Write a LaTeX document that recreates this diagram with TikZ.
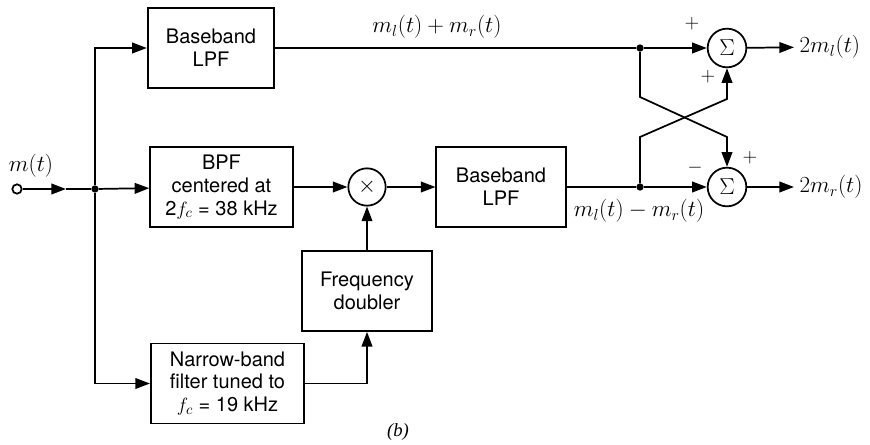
\documentclass[tikz,border=0pt]{standalone}
\usepackage{fontspec}
\setmainfont{TeX Gyre Heros}
\newfontfamily\capfont{Liberation Serif}
\usetikzlibrary{arrows.meta,positioning,calc}

\begin{document}
\begin{tikzpicture}[
    x=0.75pt, y=-0.75pt,
    font=\fontsize{15}{17}\selectfont,
    box/.style={draw, line width=1.3pt, align=center, minimum height=60pt, inner sep=2pt},
    opcirc/.style={draw, circle, line width=1.3pt, minimum size=29pt, inner sep=0pt},
    dot/.style={circle, fill, inner sep=0pt, minimum size=5.5pt},
    wire/.style={line width=1.3pt},
    arr/.style={wire, -{Triangle[length=11pt, width=8pt]}},
    sig/.style={font=\fontsize{16.5}{18}\selectfont, inner sep=1pt},
    sgn/.style={font=\fontsize{15}{15}\selectfont, inner sep=0pt}
  ]
    \useasboundingbox (0,0) rectangle (870,445);
    % blocks
    \node[box, minimum width=95pt] (lpfa) at (211,48) {Baseband\\LPF};
    \node[box, minimum width=107pt] (bpf) at (221.5,187) {BPF\\centered at\\2$f_c$ = 38 kHz};
    \node[opcirc, minimum size=28pt] (mix) at (367,187) {\fontsize{17}{17}\selectfont$\times$};
    \node[box, minimum width=97pt] (lpfb) at (501,187) {Baseband\\LPF};
    \node[box, minimum width=98pt] (dbl) at (367,291) {Frequency\\doubler};
    \node[box, minimum width=115pt] (nbf) at (227.5,383.5) {Narrow-band\\filter tuned to\\$f_c$ = 19 kHz};
    \node[opcirc] (suma) at (727,48) {\fontsize{18}{18}\selectfont$\Sigma$};
    \node[opcirc] (sumb) at (727,187) {\fontsize{18}{18}\selectfont$\Sigma$};
    % input and branch points
    \node[circle, draw, wire, minimum size=7pt, inner sep=0pt] (in) at (17,189) {};
    \node[sig] (lin) at (31,166) {$m(t)$};
    \coordinate (inmid) at (66,189);
    \node[dot] (j) at (95,189) {};
    \node[dot] (jt) at (640,48) {};
    \node[dot] (jb) at (640,187) {};
    \coordinate (xa1) at (640,97);
    \coordinate (xa2) at (727,137);
    \coordinate (xb1) at (640,137);
    \coordinate (xb2) at (727,99);
    % outputs
    \node[sig, anchor=west, inner sep=4pt] (outa) at (794,47) {$2m_l(t)$};
    \node[sig, anchor=west, inner sep=4pt] (outb) at (794,187) {$2m_r(t)$};
    \node[sig] (lsum) at (437,27) {$m_l(t) + m_r(t)$};
    \node[sig] (ldif) at (639,211) {$m_l(t) - m_r(t)$};
    % signs
    \node[sgn] at (692,24) {$+$};
    \node[sgn] at (708,77) {$+$};
    \node[sgn] at (750,158) {$+$};
    \node[sgn] at (695,168) {$-$};
    \node[font=\capfont\itshape\fontsize{14}{16}\selectfont] (cap) at (398,432) {(b)};
    % connections
    \draw[arr] (in) -- (inmid);
    \draw[wire] (inmid) -- (j);
    \draw[arr] (j) -- (bpf);
    \draw[arr] (j) |- (lpfa);
    \draw[arr] (j) |- (nbf);
    \draw[arr] (bpf) -- (mix);
    \draw[arr] (mix) -- (lpfb);
    \draw[arr] (nbf) -| (dbl);
    \draw[arr] (dbl) -- (mix);
    \draw[wire] (lpfa) -- (jt);
    \draw[arr] (jt) -- (suma);
    \draw[wire] (lpfb) -- (jb);
    \draw[arr] (jb) -- (sumb);
    \draw[arr] (jt) -- (xa1) -- (xa2) -- (sumb);
    \draw[arr] (jb) -- (xb1) -- (xb2) -- (suma);
    \draw[arr] (suma) -- (outa);
    \draw[arr] (sumb) -- (outb);
  \end{tikzpicture}
\end{document}
